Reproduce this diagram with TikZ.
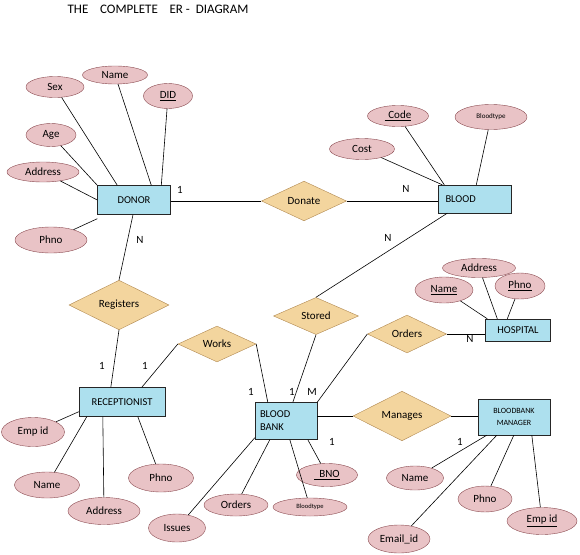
\documentclass[tikz,border=0pt]{standalone}
\usepackage{fontspec}
\setmainfont{Carlito}
\usetikzlibrary{shapes.geometric}
\definecolor{entfill}{HTML}{ADE0EE}
\definecolor{relfill}{HTML}{F3D59E}
\definecolor{reldraw}{HTML}{B08850}
\definecolor{attfill}{HTML}{E9C3C6}
\definecolor{attdraw}{HTML}{8A4A50}
\tikzset{
  entity/.style={rectangle, draw=black!85, fill=entfill, inner sep=0pt, font=\fontsize{10.5}{12}\selectfont},
  rel/.style={diamond, draw=reldraw, fill=relfill, inner sep=0pt, font=\fontsize{11}{13}\selectfont},
  attr/.style={ellipse, draw=attdraw, fill=attfill, inner sep=0pt, font=\fontsize{11}{13}\selectfont},
  card/.style={font=\fontsize{11}{13}\selectfont, inner sep=0pt},
  conn/.style={draw=black, line width=0.6pt},
}
\begin{document}
\begin{tikzpicture}[x=1pt,y=-1pt]
\useasboundingbox (0,0) rectangle (580,554);
\node[font=\fontsize{13}{15}\selectfont] (title) at (158,9) {THE\ \ \ \ COMPLETE\ \ \ \ ER -\ \ DIAGRAM};

% entities
\node[entity, minimum width=73pt, minimum height=29pt] (donor) at (134,200) {DONOR};
\node[entity, minimum width=73pt, minimum height=28pt, text width=59pt, align=left] (blood) at (475,199) {BLOOD};
\node[entity, minimum width=65pt, minimum height=22pt] (hospital) at (518,330) {HOSPITAL};
\node[entity, minimum width=62pt, minimum height=37pt, text width=52pt, align=left] (bloodbank) at (286,421) {BLOOD\\[1pt]BANK};
\node[entity, minimum width=86pt, minimum height=29pt] (receptionist) at (122,402) {RECEPTIONIST};
\node[entity, minimum width=72pt, minimum height=36pt, align=center, font=\fontsize{8}{12}\selectfont] (bbm) at (514,417) {BLOODBANK\\MANAGER};

% relationships
\node[rel, minimum width=85pt, minimum height=38pt] (donate) at (304,201) {Donate};
\node[rel, minimum width=85pt, minimum height=35pt] (stored) at (316,316) {Stored};
\node[rel, minimum width=79pt, minimum height=29pt] (orders) at (407,334) {Orders};
\node[rel, minimum width=100pt, minimum height=34pt] (registers) at (119,305) {Registers};
\node[rel, minimum width=78pt, minimum height=35pt] (works) at (217,344) {Works};
\node[rel, minimum width=98pt, minimum height=36pt] (manages) at (402,416) {Manages};

% donor attributes
\node[attr, minimum width=58pt, minimum height=21pt] (sex) at (55,87) {Sex};
\node[attr, minimum width=65pt, minimum height=18pt] (dname) at (115,75) {Name};
\node[attr, minimum width=49pt, minimum height=25pt] (did) at (168,96) {\underline{DID}};
\node[attr, minimum width=50pt, minimum height=23pt] (age) at (51,135) {Age};
\node[attr, minimum width=72pt, minimum height=20pt] (daddr) at (43,172) {Address};
\node[attr, minimum width=72pt, minimum height=26pt] (dphno) at (51,240) {Phno};

% blood attributes
\node[attr, minimum width=61pt, minimum height=21pt] (code) at (398,116) {\underline{\,\,Code}};
\node[attr, minimum width=72pt, minimum height=25pt, font=\fontsize{7}{8}\selectfont] (btype) at (491,117) {Bloodtype};
\node[attr, minimum width=65pt, minimum height=21pt] (cost) at (362,149) {Cost};

% hospital attributes
\node[attr, minimum width=73pt, minimum height=19pt] (haddr) at (479,268) {Address};
\node[attr, minimum width=58pt, minimum height=26pt] (hname) at (444,290) {\underline{Name}};
\node[attr, minimum width=50pt, minimum height=26pt] (hphno) at (520,286) {\underline{Phno}};

% receptionist attributes
\node[attr, minimum width=63pt, minimum height=29pt] (rempid) at (33,432) {Emp id};
\node[attr, minimum width=65pt, minimum height=26pt] (rname) at (47,485) {Name};
\node[attr, minimum width=72pt, minimum height=27pt] (raddr) at (104,511) {Address};
\node[attr, minimum width=65pt, minimum height=28pt] (rphno) at (161,478) {Phno};

% blood bank attributes
\node[attr, minimum width=57pt, minimum height=28pt] (issues) at (177,528) {Issues};
\node[attr, minimum width=64pt, minimum height=22pt] (bborders) at (236,505) {Orders};
\node[attr, minimum width=74pt, minimum height=18pt, font=\fontsize{6.5}{7}\selectfont] (bbtype) at (310,507) {Bloodtype};
\node[attr, minimum width=61pt, minimum height=23pt] (bno) at (327,475) {\underline{\ \ BNO}};

% manager attributes
\node[attr, minimum width=57pt, minimum height=24pt] (mname) at (415,478) {Name};
\node[attr, minimum width=54pt, minimum height=26pt] (mphno) at (485,499) {Phno};
\node[attr, minimum width=70pt, minimum height=27pt] (mempid) at (542,521) {\underline{Emp id}};
\node[attr, minimum width=62pt, minimum height=28pt] (memail) at (399,539) {Email\_id};

% connectors: donor
\draw[conn] (sex) -- ([xshift=20pt]donor.north west);
\draw[conn] (dname) -- ([xshift=54pt]donor.north west);
\draw[conn] (did) -- ([xshift=64pt]donor.north west);
\draw[conn] (age) -- (donor.north west);
\draw[conn] (daddr) -- (donor.west);
\draw[conn] (dphno) -- ([yshift=-4pt]donor.south west);
\draw[conn] ([xshift=-1pt]donor.south) -- (registers.north);
\draw[conn] (donor.east |- donate.west) -- (donate.west);
\draw[conn] (donate.east) -- (blood.west |- donate.east);

% blood
\draw[conn] (code) -- ([xshift=6pt]blood.north west);
\draw[conn] (btype) -- ([xshift=38pt]blood.north west);
\draw[conn] (cost) -- ([xshift=4pt]blood.north west);
\draw[conn] ([xshift=9pt]blood.south west) -- (stored.north);

% stored / orders / hospital
\draw[conn] (stored.south) -- ([xshift=38pt]bloodbank.north west);
\draw[conn] (orders.west) -- (bloodbank.north east);
\draw[conn] (orders.east) -- (hospital.west |- orders.east);
\draw[conn] (hname) -- ([xshift=2pt]hospital.north west);
\draw[conn] (haddr) -- ([xshift=12pt]hospital.north west);
\draw[conn] (hphno) -- ([xshift=22pt]hospital.north west);

% receptionist
\draw[conn] (registers.south) -- ([xshift=32pt]receptionist.north west);
\draw[conn] (works.west) -- ([xshift=63pt]receptionist.north west);
\draw[conn] (works.east) -- ([xshift=13pt]bloodbank.north west);
\draw[conn] (rempid) -- ([yshift=5pt]receptionist.south west);
\draw[conn] (rname) -- ([xshift=8pt]receptionist.south west);
\draw[conn] (raddr) -- ([xshift=24pt]receptionist.south west);
\draw[conn] (rphno) -- ([xshift=59pt]receptionist.south west);

% blood bank
\draw[conn] (issues) -- ([yshift=2pt]bloodbank.south west);
\draw[conn] (bborders) -- ([xshift=15pt]bloodbank.south west);
\draw[conn] (bbtype) -- ([xshift=35pt]bloodbank.south west);
\draw[conn] (bno) -- ([xshift=53pt]bloodbank.south west);
\draw[conn] (bloodbank.east |- manages.west) -- (manages.west);
\draw[conn] (manages.east) -- (bbm.west |- manages.east);

% manager
\draw[conn] (mname) -- ([xshift=9pt]bbm.south west);
\draw[conn] (memail) -- ([xshift=19pt]bbm.south west);
\draw[conn] (mphno) -- ([xshift=36pt]bbm.south west);
\draw[conn] (mempid) -- ([xshift=54pt]bbm.south west);

% cardinalities
\node[card] (c1) at (180,190) {1};
\node[card] (c2) at (140,240) {N};
\node[card] (c3) at (406,189) {N};
\node[card] (c4) at (388,238) {N};
\node[card] (c5) at (102,366) {1};
\node[card] (c6) at (145,366) {1};
\node[card] (c7) at (251,392) {1};
\node[card] (c8) at (292,392) {1};
\node[card] (c9) at (312,392) {M};
\node[card] (c10) at (470,339) {N};
\node[card] (c11) at (332,442) {1};
\node[card] (c12) at (460,442) {1};
\end{tikzpicture}
\end{document}
